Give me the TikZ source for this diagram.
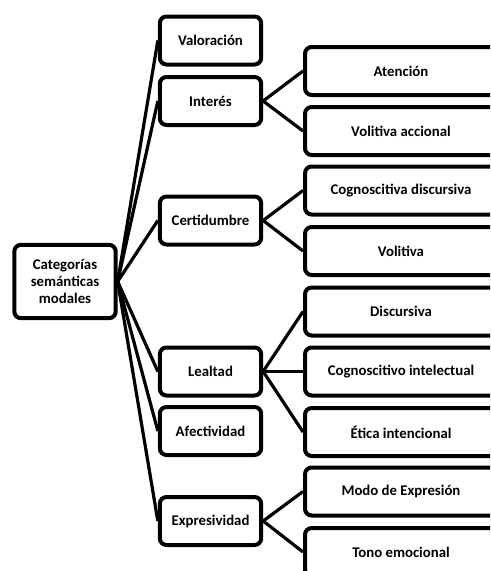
\documentclass[tikz,border=0pt]{standalone}
\usepackage{fontspec}
\setmainfont{Carlito}
\usepackage{tikz}
\definecolor{BoxBlack}{RGB}{0,0,0}

\begin{document}
\begin{tikzpicture}[x=.75pt,y=-.75pt,
  caja/.style={draw=BoxBlack,line width=3pt,rounded corners=5pt,fill=white,font=\bfseries\fontsize{11.1}{12.8}\selectfont,align=center,inner sep=0pt},
  medio/.style={caja,minimum width=76pt,minimum height=36pt},
  hoja/.style={caja,minimum width=144pt,minimum height=36pt},
  rama/.style={line width=2.4pt,BoxBlack}]
\useasboundingbox (0,0) rectangle (490,571);
\clip (0,0) rectangle (490,571);
\node[caja,minimum width=76pt,minimum height=55pt] (raiz) at (65,281.5){Categorías\\semánticas\\modales};
\node[medio] (val) at (210.5,40.5){Valoración};
\node[medio] (int) at (210.5,101){Interés};
\node[medio] (cer) at (210.5,220.5){Certidumbre};
\node[medio] (lea) at (210.5,371.5){Lealtad};
\node[medio] (afe) at (210.5,431){Afectividad};
\node[medio] (exp) at (210.5,521){Expresividad};
\node[hoja] (ate) at (401,71){Atención};
\node[hoja] (vac) at (401,131){Volitiva accional};
\node[hoja] (cdi) at (401,190.5){Cognoscitiva discursiva};
\node[hoja] (vol) at (401,251){Volitiva};
\node[hoja] (dis) at (401,311.5){Discursiva};
\node[hoja] (cin) at (401,371.5){Cognoscitivo intelectual};
\node[hoja] (eti) at (401,432){Ética intencional};
\node[hoja] (mod) at (401,491.5){Modo de Expresión};
\node[hoja] (ton) at (401,552){Tono emocional};
% ramas
\foreach \a/\b in {raiz/val,raiz/int,raiz/cer,raiz/lea,raiz/afe,raiz/exp,int/ate,int/vac,cer/cdi,cer/vol,lea/dis,lea/cin,lea/eti,exp/mod,exp/ton}{\draw[rama] (\a.east)--(\b.west);}
\end{tikzpicture}
\end{document}
